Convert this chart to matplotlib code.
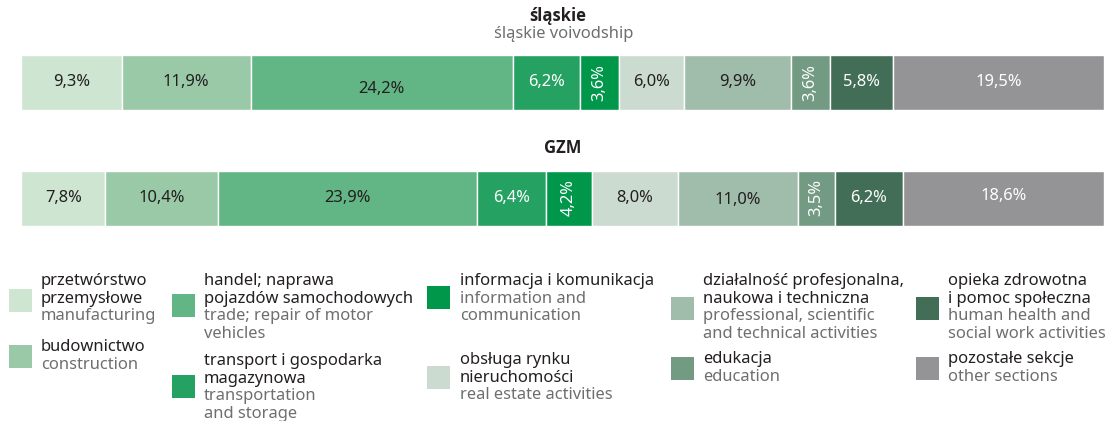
import matplotlib
matplotlib.use("Agg")
import matplotlib.pyplot as plt
from matplotlib.patches import Rectangle
import numpy as np

plt.rcParams["font.family"] = ["Noto Sans", "DejaVu Sans"]

# shares of employment by section, per cent
sections_pl = [
    ["przetwórstwo", "przemysłowe"],
    ["budownictwo"],
    ["handel; naprawa", "pojazdów samochodowych"],
    ["transport i gospodarka", "magazynowa"],
    ["informacja i komunikacja"],
    ["obsługa rynku", "nieruchomości"],
    ["działalność profesjonalna,", "naukowa i techniczna"],
    ["edukacja"],
    ["opieka zdrowotna", "i pomoc społeczna"],
    ["pozostałe sekcje"],
]
sections_en = [
    ["manufacturing"],
    ["construction"],
    ["trade; repair of motor", "vehicles"],
    ["transportation", "and storage"],
    ["information and", "communication"],
    ["real estate activities"],
    ["professional, scientific", "and technical activities"],
    ["education"],
    ["human health and", "social work activities"],
    ["other sections"],
]
shares_slaskie = [9.3, 11.9, 24.2, 6.2, 3.6, 6.0, 9.9, 3.6, 5.8, 19.5]
shares_gzm = [7.8, 10.4, 23.9, 6.4, 4.2, 8.0, 11.0, 3.5, 6.2, 18.6]

colors = ["#cde5d1", "#99c9a7", "#62b584", "#25a162", "#00974b",
          "#ccdbd0", "#a0bcab", "#739b84", "#426e57", "#949497"]
white_text = [False, False, False, True, True,
              False, False, True, True, True]
DARK = "#231f20"
GREY = "#6d6e70"
BOLD_FAMILY = ["Open Sans", "Lato", "DejaVu Sans"]

W, H = 1113, 421
fig = plt.figure(figsize=(W / 100, H / 100), dpi=100)

# bar axes: x in per cent, y in pixels from the top
bar_left, bar_right = 21, 1104
ppu = (bar_right - bar_left) / 100.0
bx = fig.add_axes([0, 0, 1, 1])
bx.set_xlim(-bar_left / ppu, 100 + (W - bar_right) / ppu)
bx.set_ylim(H, 0)
bx.axis("off")

# overlay axes in pixel units for titles and legend
ov = fig.add_axes([0, 0, 1, 1])
ov.set_xlim(0, W)
ov.set_ylim(H, 0)
ov.axis("off")

rows = [
    (shares_slaskie, 82.5, [0, 0, 6.5, 0, 0, 0, 0, 0, 0, 0]),
    (shares_gzm, 198, [0, 0, 0, 0, 0, 0, 2, 0, 0, -2]),
]
for shares, yc, nudges in rows:
    shares = np.array(shares)
    lefts = np.concatenate([[0], np.cumsum(shares)[:-1]])
    bx.barh(yc, shares, left=lefts, height=55, color=colors,
            edgecolor="white", linewidth=1.0)
    for v, l, light, dy in zip(shares, lefts, white_text, nudges):
        label = f"{v:.1f}%".replace(".", ",")
        bx.text(l + v / 2, yc + dy, label,
                ha="center", va="center", fontsize=11.9,
                rotation=90 if v < 5 else 0,
                color="white" if light else DARK)

ov.text(558, 16, "śląskie", ha="center", va="center", family=BOLD_FAMILY,
        fontsize=12, fontweight="bold", color=DARK)
ov.text(564, 34, "śląskie voivodship", ha="center", va="center",
        fontsize=11.9, color=GREY)
ov.text(563, 148, "GZM", ha="center", va="center", family=BOLD_FAMILY,
        fontsize=12, fontweight="bold", color=DARK)

# legend: (square x, square top, text x, first line y)
legend_pos = [
    (9, 289, 41, 281),
    (9, 345, 41, 347),
    (172, 294, 204, 281),
    (172, 375, 204, 361),
    (427, 286, 460, 281),
    (427, 366, 460, 360),
    (671, 297, 703, 281),
    (671, 357, 703, 359),
    (916, 297, 948, 281),
    (916, 357, 948, 359),
]
line_step = 17.7
for (sx, sy, tx, ty), pl, en, c in zip(legend_pos, sections_pl,
                                        sections_en, colors):
    ov.add_patch(Rectangle((sx, sy), 23, 23, facecolor=c, edgecolor="none"))
    lines = [(t, DARK) for t in pl] + [(t, GREY) for t in en]
    for i, (t, col) in enumerate(lines):
        ov.text(tx, ty + i * line_step, t, ha="left", va="center",
                fontsize=11.9, color=col)

fig.savefig("out.png", dpi=100)
